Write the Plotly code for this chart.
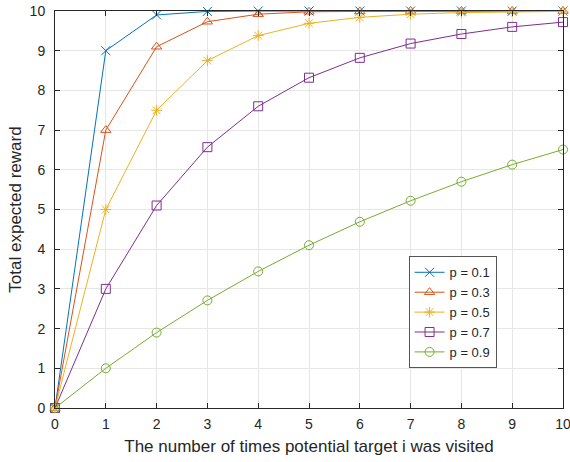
import plotly.graph_objects as go

visits = [0, 1, 2, 3, 4, 5, 6, 7, 8, 9, 10]
p01 = [0, 9.0, 9.9, 9.99, 9.999, 10.0, 10.0, 10.0, 10.0, 10.0, 10.0]
p03 = [0, 7.0, 9.1, 9.73, 9.92, 9.98, 9.99, 10.0, 10.0, 10.0, 10.0]
p05 = [0, 5.0, 7.5, 8.75, 9.38, 9.69, 9.84, 9.92, 9.96, 9.98, 9.99]
p07 = [0, 3.0, 5.1, 6.57, 7.6, 8.32, 8.82, 9.18, 9.42, 9.6, 9.72]
p09 = [0, 1.0, 1.9, 2.71, 3.44, 4.1, 4.69, 5.22, 5.7, 6.13, 6.51]
names = ["p = 0.1", "p = 0.3", "p = 0.5", "p = 0.7", "p = 0.9"]
series = [p01, p03, p05, p07, p09]
colors = ["#0072BD", "#D95319", "#EDB120", "#7E2F8E", "#77AC30"]
symbols = ["x-thin", "triangle-up-open", "asterisk-open", "square-open", "circle-open"]

FONT = "Liberation Sans, Arial"
fig = go.Figure()
for nm, ys, c, s in zip(names, series, colors, symbols):
    fig.add_trace(go.Scatter(
        x=visits, y=ys, name=nm, mode="lines+markers", cliponaxis=False,
        line=dict(color=c, width=1),
        marker=dict(symbol=s, size=9, color=c, line=dict(color=c, width=1)),
    ))

axis_common = dict(
    showgrid=True, gridcolor="#E6E6E6", gridwidth=1,
    showline=True, linecolor="#262626", linewidth=1, mirror="ticks",
    ticks="inside", ticklen=5, tickcolor="#262626",
    tickfont=dict(family=FONT, size=14, color="#262626"),
    zeroline=False, dtick=1, automargin=False, ticklabeloverflow="allow",
)
fig.update_xaxes(range=[0, 10], ticklabelstandoff=3,
                 title=dict(text="The number of times potential target i was visited",
                            font=dict(family=FONT, size=17, color="#262626"), standoff=9), **axis_common)
fig.update_yaxes(range=[0, 10], ticklabelstandoff=6,
                 title=dict(text="Total expected reward",
                            font=dict(family=FONT, size=17, color="#262626"), standoff=3), **axis_common)

fig.update_layout(
    width=570, height=462,
    margin=dict(l=55, r=7, t=11, b=54),
    paper_bgcolor="white", plot_bgcolor="white",
    legend=dict(x=0.696, y=0.382, xanchor="left", yanchor="top",
                bgcolor="white", bordercolor="#555555", borderwidth=1,
                font=dict(family=FONT, size=13, color="#262626"),
                tracegroupgap=0, itemwidth=30),
    showlegend=True,
)
fig.write_html("out.html", config={"displayModeBar": False},
               post_script="document.body.style.margin='0';document.body.style.overflow='hidden';")
